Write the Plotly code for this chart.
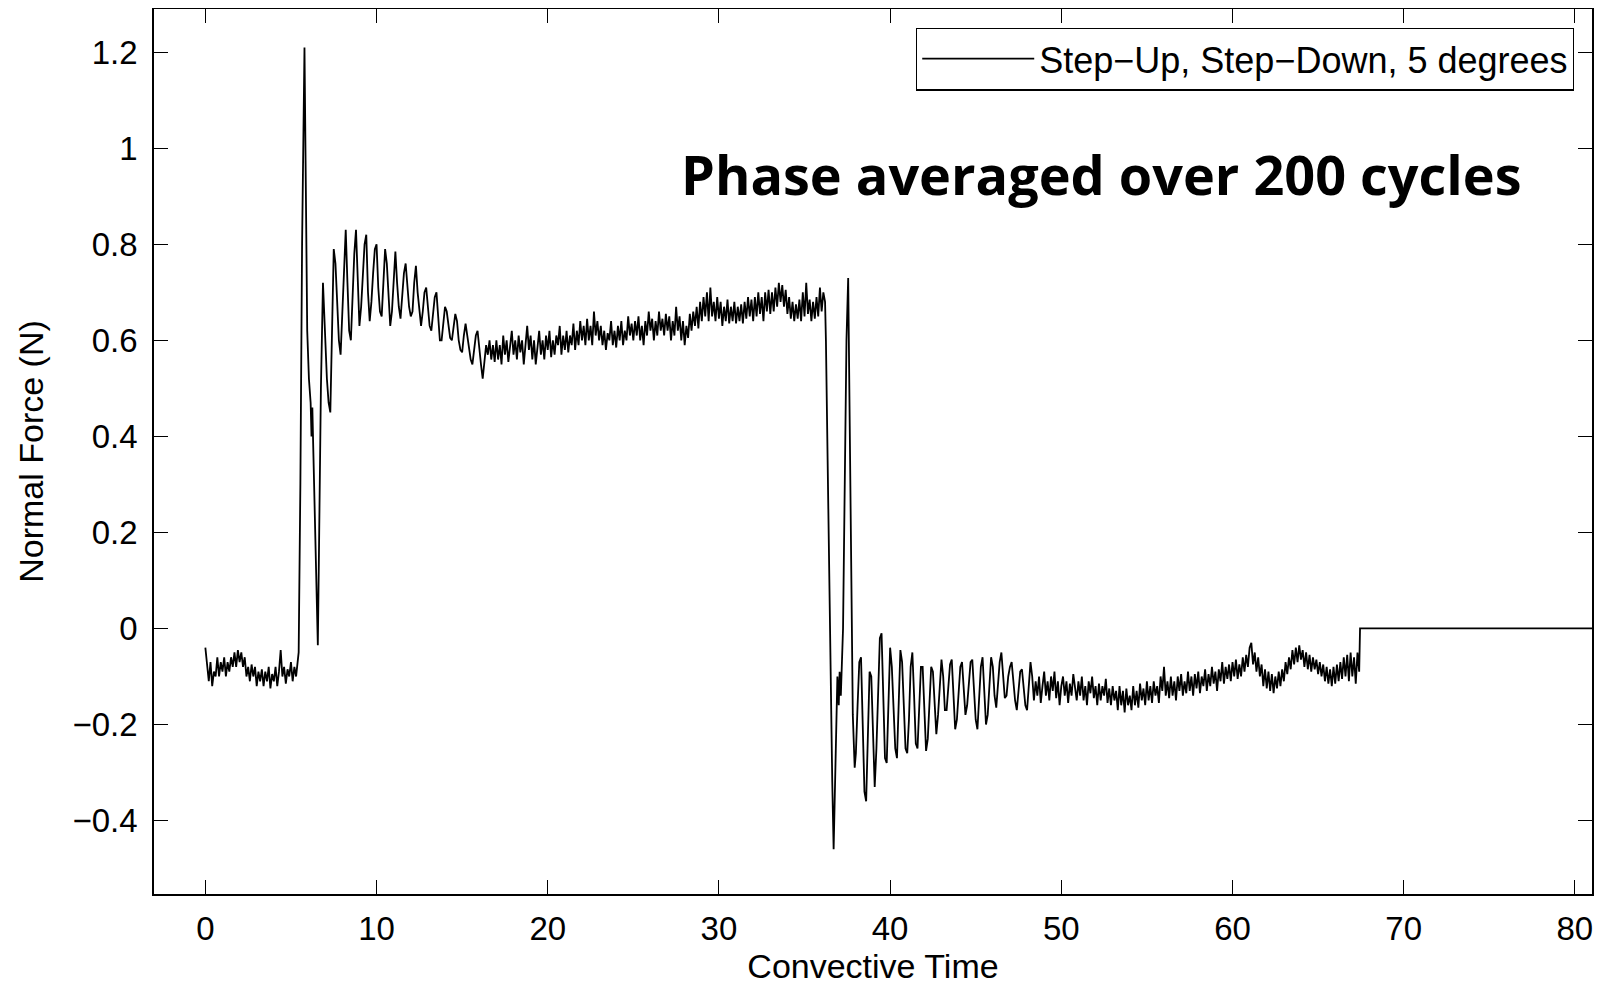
import plotly.graph_objects as go

# ---------------- data ----------------
DT = 0.1  # sampling interval of the uniform segments (convective time)

baseline_start = 0.0
baseline_force = [
    -0.04, -0.08, -0.11, -0.07, -0.12, -0.09, -0.10, -0.06, -0.10, -0.07,
    -0.09, -0.06, -0.10, -0.07, -0.09, -0.06, -0.08, -0.05, -0.08, -0.045,
    -0.07, -0.05, -0.08, -0.06, -0.10, -0.08, -0.11, -0.075, -0.10, -0.08,
    -0.12, -0.09, -0.11, -0.085, -0.12, -0.09, -0.11, -0.08, -0.125, -0.095,
    -0.11, -0.08, -0.12, -0.09, -0.045, -0.10, -0.08, -0.115, -0.085, -0.10,
    -0.07, -0.11, -0.08, -0.10, -0.06,
]

spike_time = [5.45, 5.55, 5.65, 5.79, 5.88, 5.95, 6.05, 6.15, 6.20, 6.25,
              6.30, 6.42, 6.57, 6.65, 6.75, 6.87, 6.95]
spike_force = [-0.05, 0.30, 0.80, 1.21, 0.85, 0.62, 0.52, 0.47, 0.40, 0.46,
               0.38, 0.22, -0.035, 0.20, 0.50, 0.72, 0.64]

ringup_start = 7.0
ringup_force = [
    0.60, 0.52, 0.47, 0.45, 0.62, 0.79, 0.76, 0.66, 0.60, 0.57,
    0.66, 0.76, 0.83, 0.72, 0.62, 0.60, 0.70, 0.78, 0.83, 0.72,
    0.63, 0.67, 0.74, 0.80, 0.82, 0.70, 0.64, 0.68, 0.74, 0.79,
    0.80, 0.71, 0.66, 0.65, 0.72, 0.79, 0.76, 0.68, 0.63, 0.66,
    0.73, 0.785, 0.72, 0.67, 0.645, 0.69, 0.74, 0.76, 0.71, 0.67,
    0.65, 0.66, 0.72, 0.755, 0.70, 0.66, 0.63, 0.66, 0.70, 0.71,
    0.67, 0.63, 0.62, 0.66, 0.69, 0.70, 0.65, 0.60, 0.60, 0.63,
    0.67, 0.66, 0.63, 0.605, 0.60, 0.63, 0.655, 0.64, 0.60, 0.58,
    0.575, 0.61, 0.635, 0.61, 0.58, 0.56, 0.55, 0.58, 0.61, 0.62,
    0.58, 0.55, 0.52, 0.56, 0.59, 0.57, 0.60, 0.56, 0.59, 0.555,
]

plateau_start = 17.0
plateau_force = [
    0.60, 0.56, 0.59, 0.55, 0.61, 0.57, 0.60, 0.555, 0.59, 0.62,
    0.57, 0.60, 0.56, 0.61, 0.575, 0.60, 0.55, 0.59, 0.63, 0.58,
    0.61, 0.56, 0.60, 0.55, 0.59, 0.62, 0.57, 0.60, 0.56, 0.61,
    0.58, 0.62, 0.565, 0.60, 0.57, 0.61, 0.59, 0.63, 0.57, 0.61,
    0.58, 0.62, 0.575, 0.61, 0.59, 0.635, 0.58, 0.62, 0.59, 0.64,
    0.60, 0.63, 0.59, 0.645, 0.60, 0.63, 0.59, 0.66, 0.61, 0.64,
    0.60, 0.63, 0.59, 0.62, 0.58, 0.615, 0.60, 0.64, 0.59, 0.62,
    0.585, 0.63, 0.60, 0.64, 0.59, 0.62, 0.60, 0.65, 0.61, 0.635,
    0.60, 0.64, 0.61, 0.65, 0.60, 0.63, 0.59, 0.64, 0.61, 0.66,
    0.62, 0.645, 0.60, 0.64, 0.61, 0.66, 0.62, 0.645, 0.61, 0.655,
    0.62, 0.65, 0.60, 0.64, 0.61, 0.67, 0.62, 0.65, 0.60, 0.64,
    0.59, 0.63, 0.605, 0.655, 0.62, 0.66, 0.63, 0.67, 0.625, 0.68,
    0.64, 0.69, 0.65, 0.70, 0.64, 0.71, 0.65, 0.68, 0.64, 0.69,
    0.645, 0.68, 0.63, 0.67, 0.64, 0.685, 0.635, 0.67, 0.64, 0.68,
    0.635, 0.67, 0.64, 0.675, 0.635, 0.68, 0.645, 0.69, 0.65, 0.685,
    0.64, 0.69, 0.65, 0.70, 0.655, 0.69, 0.64, 0.70, 0.66, 0.705,
    0.655, 0.70, 0.66, 0.71, 0.67, 0.72, 0.68, 0.715, 0.67, 0.705,
    0.655, 0.69, 0.645, 0.68, 0.64, 0.675, 0.645, 0.685, 0.64, 0.70,
    0.65, 0.72, 0.655, 0.685, 0.64, 0.68, 0.645, 0.69, 0.65, 0.71,
    0.66, 0.70, 0.68,
]

drop_time = [36.25, 36.35, 36.50, 36.62, 36.70, 36.78, 36.85, 36.92, 37.00,
             37.05, 37.12, 37.18, 37.25, 37.35, 37.45, 37.55, 37.62, 37.72,
             37.82, 37.93]
drop_force = [0.60, 0.35, -0.05, -0.32, -0.46, -0.33, -0.15, -0.10, -0.16,
              -0.09, -0.14, -0.07, 0.0, 0.30, 0.60, 0.73, 0.50, 0.10,
              -0.18, -0.29]

ringdown_start = 38.0
ringdown_force = [
    -0.26, -0.16, -0.07, -0.06, -0.20, -0.34, -0.36, -0.22, -0.09, -0.10,
    -0.24, -0.33, -0.25, -0.12, -0.02, -0.01, -0.15, -0.27, -0.28, -0.14,
    -0.04, -0.08, -0.18, -0.25, -0.27, -0.15, -0.045, -0.07, -0.16, -0.25,
    -0.26, -0.19, -0.08, -0.05, -0.14, -0.24, -0.25, -0.17, -0.08, -0.08,
    -0.17, -0.255, -0.23, -0.14, -0.08, -0.09, -0.16, -0.22, -0.18, -0.11,
    -0.065, -0.10, -0.17, -0.17, -0.12, -0.075, -0.065, -0.13, -0.21, -0.19,
    -0.13, -0.08, -0.07, -0.13, -0.18, -0.16, -0.11, -0.07, -0.065, -0.12,
    -0.19, -0.21, -0.15, -0.08, -0.06, -0.12, -0.20, -0.18, -0.11, -0.06,
    -0.08, -0.14, -0.165, -0.12, -0.07, -0.05, -0.10, -0.145, -0.14, -0.10,
    -0.08, -0.07, -0.11, -0.15, -0.17, -0.13, -0.09, -0.085, -0.12, -0.16,
]

tail_start = 48.0
tail_force = [
    -0.17, -0.11, -0.07, -0.10, -0.15, -0.11, -0.14, -0.10, -0.155, -0.12,
    -0.09, -0.14, -0.11, -0.15, -0.10, -0.13, -0.09, -0.145, -0.11, -0.16,
    -0.12, -0.10, -0.14, -0.11, -0.155, -0.115, -0.14, -0.095, -0.13, -0.15,
    -0.11, -0.14, -0.10, -0.15, -0.12, -0.16, -0.11, -0.135, -0.10, -0.145,
    -0.12, -0.16, -0.115, -0.15, -0.12, -0.14, -0.105, -0.155, -0.125, -0.16,
    -0.12, -0.15, -0.13, -0.17, -0.12, -0.16, -0.13, -0.175, -0.125, -0.16,
    -0.14, -0.17, -0.12, -0.16, -0.13, -0.165, -0.115, -0.15, -0.125, -0.16,
    -0.11, -0.15, -0.12, -0.155, -0.11, -0.14, -0.12, -0.155, -0.10, -0.13,
    -0.08, -0.14, -0.11, -0.145, -0.10, -0.14, -0.11, -0.15, -0.10, -0.13,
    -0.095, -0.14, -0.11, -0.135, -0.09, -0.13, -0.10, -0.14, -0.095, -0.125,
    -0.09, -0.135, -0.10, -0.12, -0.085, -0.13, -0.095, -0.12, -0.08, -0.115,
    -0.09, -0.13, -0.085, -0.11, -0.07, -0.115, -0.08, -0.105, -0.075, -0.11,
    -0.07, -0.10, -0.065, -0.105, -0.075, -0.10, -0.06, -0.09, -0.055, -0.08,
    -0.04, -0.03, -0.075, -0.05, -0.09, -0.06, -0.10, -0.075, -0.12, -0.085,
    -0.125, -0.09, -0.13, -0.095, -0.135, -0.10, -0.125, -0.09, -0.12, -0.085,
    -0.11, -0.07, -0.095, -0.06, -0.085, -0.045, -0.075, -0.04, -0.07, -0.035,
    -0.065, -0.045, -0.08, -0.05, -0.085, -0.055, -0.09, -0.06, -0.085, -0.065,
    -0.095, -0.07, -0.10, -0.075, -0.11, -0.08, -0.115, -0.085, -0.12, -0.08,
    -0.115, -0.075, -0.11, -0.07, -0.105, -0.06, -0.10, -0.055, -0.11, -0.05,
    -0.10, -0.06, -0.115, -0.05, -0.09,
]

hold_time = [67.45, 82.0]
hold_force = [0.0, 0.0]

x_ticks = [0, 10, 20, 30, 40, 50, 60, 70, 80]
y_ticks = [-0.4, -0.2, 0, 0.2, 0.4, 0.6, 0.8, 1.0, 1.2]

series_name = "Step\u2212Up, Step\u2212Down, 5 degrees"
note_text = "Phase averaged over 200 cycles"


# ---------------- assemble the series ----------------
def uniform(start, values):
    return [round(start + i * DT, 4) for i in range(len(values))], list(values)


time, force = [], []
for seg in (
    uniform(baseline_start, baseline_force),
    (spike_time, spike_force),
    uniform(ringup_start, ringup_force),
    uniform(plateau_start, plateau_force),
    (drop_time, drop_force),
    uniform(ringdown_start, ringdown_force),
    uniform(tail_start, tail_force),
    (hold_time, hold_force),
):
    time += list(seg[0])
    force += list(seg[1])

FONT = "Liberation Sans, Arial, Helvetica, sans-serif"

fig = go.Figure()
fig.add_trace(go.Scatter(
    x=time, y=force, mode="lines", name=series_name,
    line=dict(color="black", width=1.8),
))

axis_common = dict(
    showline=True, linecolor="black", linewidth=1.5, mirror="ticks",
    ticks="inside", ticklen=14, tickwidth=1.2, tickcolor="black",
    showgrid=False, zeroline=False, automargin=False,
    tickfont=dict(family=FONT, size=33, color="black"),
)

# the page body adds an 8px offset, so the figure is 8px smaller than the window
fig.update_layout(
    width=1594, height=980,
    margin=dict(l=146, r=10, t=1, b=94),
    paper_bgcolor="white", plot_bgcolor="white",
    font=dict(family=FONT, color="black"),
    showlegend=True,
    legend=dict(
        x=0.9875, xanchor="right", y=0.979, yanchor="top",
        bgcolor="white", bordercolor="black", borderwidth=1.2,
        font=dict(family=FONT, size=36, color="black"),
        itemwidth=112, tracegroupgap=0,
    ),
    xaxis=dict(
        range=[-3, 81], tickvals=x_ticks, ticklabelstandoff=5,
        title=dict(text="Convective Time", font=dict(family=FONT, size=34), standoff=6),
        **axis_common,
    ),
    yaxis=dict(
        range=[-0.553, 1.29], tickvals=y_ticks, ticklabelstandoff=8,
        title=dict(text="Normal Force (N)", font=dict(family=FONT, size=34), standoff=19),
        **axis_common,
    ),
    annotations=[dict(
        text="<b>" + note_text + "</b>", xref="paper", yref="paper",
        x=0.6586, y=0.8136, xanchor="center", yanchor="middle", showarrow=False,
        font=dict(family="Open Sans, Lato, sans-serif", size=54, color="black", weight=800),
    )],
)

fig.write_html("out.html")
